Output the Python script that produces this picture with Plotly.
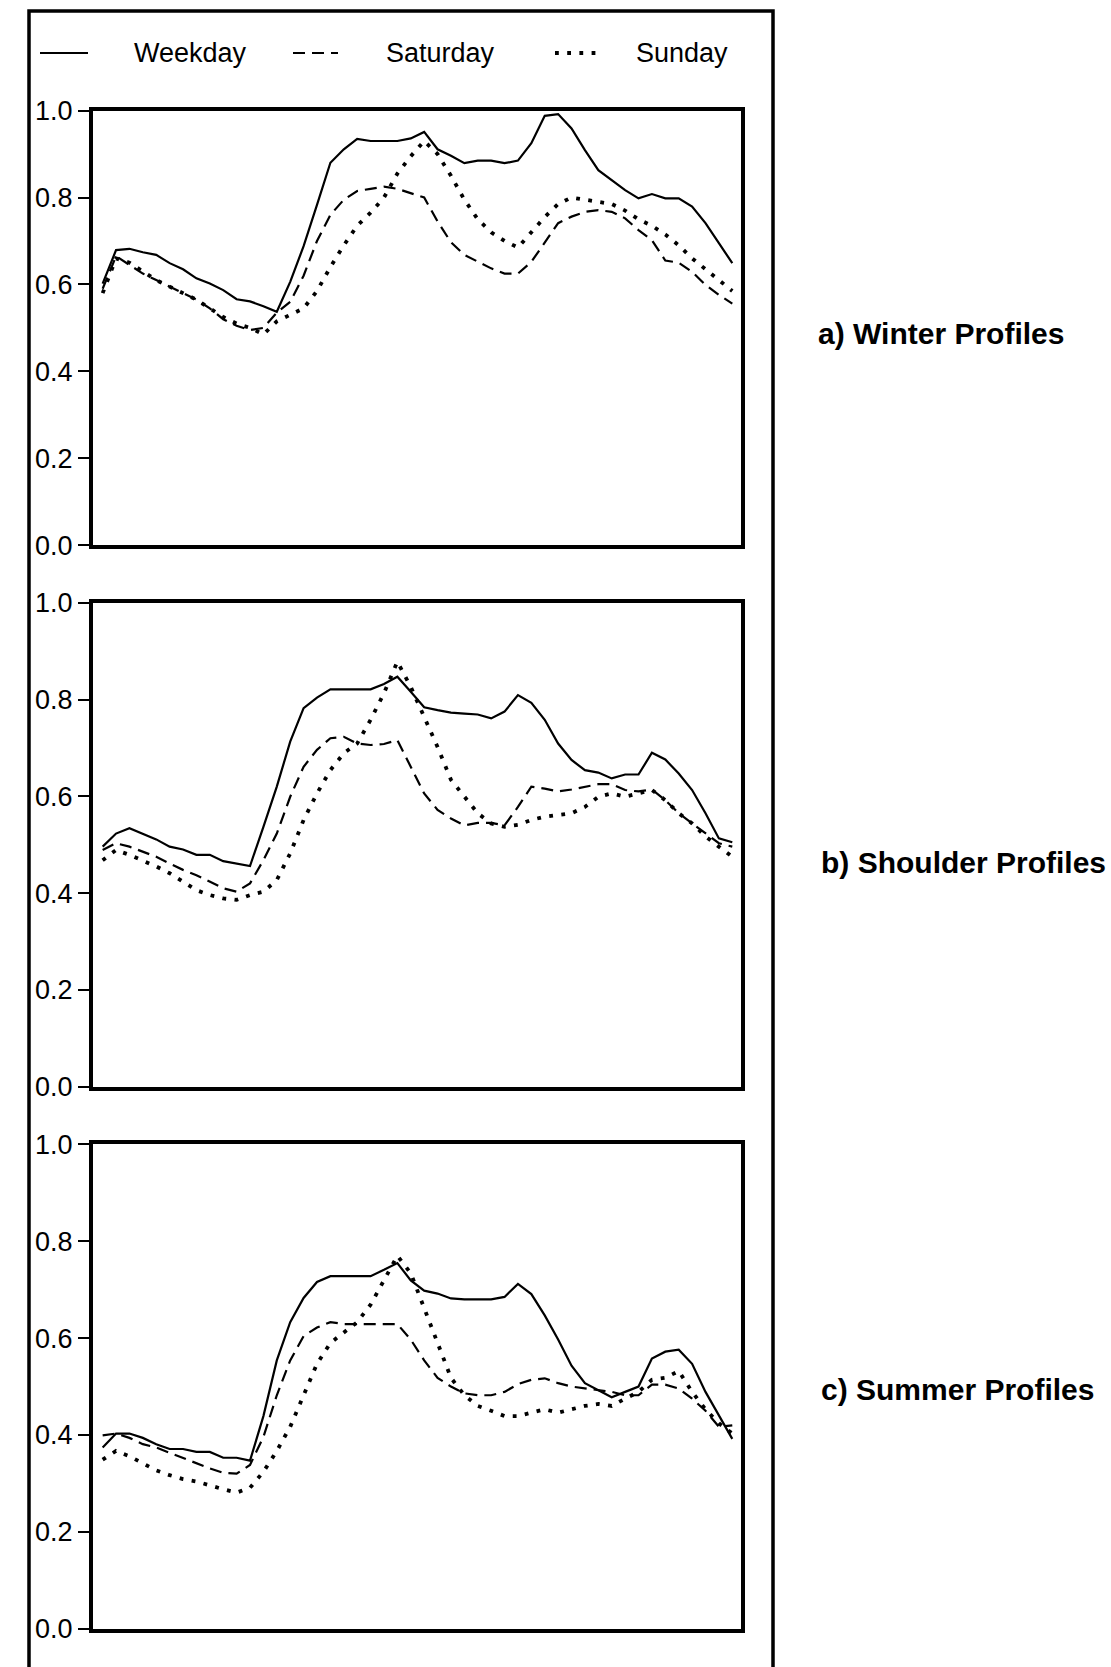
import plotly.graph_objects as go

W, H = 1111, 1667

# ---------------- data (half-hourly load profiles, 48 periods) ----------------
half_hours = list(range(48))
y_ticks = [0.0, 0.2, 0.4, 0.6, 0.8, 1.0]
y_tick_labels = ["0.0", "0.2", "0.4", "0.6", "0.8", "1.0"]
series_names = ["Weekday", "Saturday", "Sunday"]
panel_titles = ["a) Winter Profiles", "b) Shoulder Profiles", "c) Summer Profiles"]

winter_weekday = [0.602, 0.679, 0.682, 0.674, 0.668, 0.649, 0.635, 0.614, 0.602, 0.587,
                  0.566, 0.561, 0.550, 0.537, 0.606, 0.688, 0.783, 0.880, 0.911, 0.935,
                  0.930, 0.930, 0.930, 0.936, 0.951, 0.911, 0.896, 0.879, 0.885, 0.885,
                  0.879, 0.885, 0.925, 0.988, 0.992, 0.959, 0.909, 0.863, 0.840, 0.817,
                  0.798, 0.808, 0.798, 0.798, 0.779, 0.741, 0.695, 0.649]
winter_saturday = [0.590, 0.665, 0.645, 0.625, 0.610, 0.595, 0.580, 0.565, 0.545, 0.520,
                   0.505, 0.495, 0.500, 0.535, 0.560, 0.620, 0.700, 0.760, 0.795, 0.815,
                   0.820, 0.825, 0.820, 0.810, 0.800, 0.745, 0.697, 0.668, 0.652, 0.637,
                   0.625, 0.625, 0.652, 0.698, 0.741, 0.756, 0.767, 0.771, 0.767, 0.752,
                   0.725, 0.702, 0.655, 0.650, 0.629, 0.599, 0.576, 0.556]
winter_sunday = [0.580, 0.660, 0.650, 0.630, 0.610, 0.595, 0.580, 0.565, 0.545, 0.525,
                 0.510, 0.500, 0.485, 0.515, 0.530, 0.545, 0.585, 0.640, 0.690, 0.735,
                 0.765, 0.800, 0.855, 0.895, 0.930, 0.900, 0.850, 0.795, 0.750, 0.720,
                 0.700, 0.685, 0.720, 0.755, 0.785, 0.800, 0.795, 0.790, 0.785, 0.770,
                 0.750, 0.735, 0.715, 0.690, 0.660, 0.635, 0.610, 0.585]

shoulder_weekday = [0.496, 0.523, 0.534, 0.522, 0.511, 0.496, 0.490, 0.479, 0.479, 0.466,
                    0.461, 0.456, 0.537, 0.620, 0.713, 0.782, 0.804, 0.821, 0.821, 0.821,
                    0.821, 0.832, 0.847, 0.816, 0.784, 0.778, 0.773, 0.771, 0.769, 0.761,
                    0.775, 0.809, 0.793, 0.758, 0.709, 0.675, 0.654, 0.649, 0.637, 0.645,
                    0.645, 0.690, 0.676, 0.647, 0.613, 0.565, 0.513, 0.505]
shoulder_saturday = [0.489, 0.503, 0.496, 0.486, 0.475, 0.461, 0.448, 0.437, 0.424, 0.410,
                     0.403, 0.420, 0.468, 0.523, 0.599, 0.661, 0.696, 0.720, 0.723, 0.709,
                     0.706, 0.708, 0.716, 0.661, 0.606, 0.572, 0.554, 0.540, 0.545, 0.545,
                     0.540, 0.578, 0.620, 0.616, 0.610, 0.614, 0.620, 0.625, 0.625, 0.613,
                     0.610, 0.614, 0.592, 0.565, 0.544, 0.523, 0.503, 0.496]
shoulder_sunday = [0.468, 0.489, 0.479, 0.468, 0.455, 0.441, 0.424, 0.406, 0.396, 0.389,
                   0.386, 0.396, 0.403, 0.427, 0.482, 0.551, 0.606, 0.654, 0.689, 0.709,
                   0.758, 0.813, 0.878, 0.826, 0.764, 0.702, 0.634, 0.599, 0.565, 0.544,
                   0.537, 0.541, 0.551, 0.558, 0.561, 0.565, 0.578, 0.599, 0.606, 0.599,
                   0.606, 0.613, 0.592, 0.565, 0.544, 0.517, 0.496, 0.475]

summer_weekday = [0.374, 0.403, 0.403, 0.394, 0.381, 0.371, 0.371, 0.365, 0.365, 0.353,
                  0.353, 0.347, 0.439, 0.554, 0.633, 0.683, 0.716, 0.728, 0.728, 0.728,
                  0.728, 0.741, 0.755, 0.719, 0.698, 0.692, 0.682, 0.680, 0.680, 0.680,
                  0.685, 0.712, 0.691, 0.647, 0.597, 0.543, 0.507, 0.493, 0.478, 0.489,
                  0.500, 0.558, 0.572, 0.576, 0.547, 0.489, 0.439, 0.392]
summer_saturday = [0.399, 0.403, 0.394, 0.381, 0.374, 0.363, 0.353, 0.342, 0.331, 0.322,
                   0.320, 0.338, 0.396, 0.482, 0.554, 0.604, 0.622, 0.633, 0.629, 0.629,
                   0.629, 0.629, 0.629, 0.597, 0.554, 0.518, 0.500, 0.486, 0.482, 0.482,
                   0.489, 0.505, 0.514, 0.517, 0.507, 0.500, 0.496, 0.493, 0.489, 0.482,
                   0.482, 0.504, 0.504, 0.496, 0.475, 0.450, 0.417, 0.420]
summer_sunday = [0.349, 0.367, 0.356, 0.342, 0.327, 0.317, 0.309, 0.304, 0.295, 0.288,
                 0.281, 0.291, 0.324, 0.367, 0.417, 0.482, 0.547, 0.590, 0.612, 0.633,
                 0.669, 0.719, 0.770, 0.734, 0.662, 0.590, 0.518, 0.482, 0.460, 0.450,
                 0.439, 0.439, 0.446, 0.453, 0.446, 0.453, 0.460, 0.464, 0.460, 0.475,
                 0.489, 0.514, 0.518, 0.532, 0.489, 0.453, 0.424, 0.403]

panels = [
    [winter_weekday, winter_saturday, winter_sunday],
    [shoulder_weekday, shoulder_saturday, shoulder_sunday],
    [summer_weekday, summer_saturday, summer_sunday],
]

# ---------------- styling ----------------
FONT = "Liberation Sans, Arial, Helvetica, sans-serif"
line_styles = [
    dict(color="black", width=2.2, dash="solid"),
    dict(color="black", width=2.2, dash="12px,7px"),
    dict(color="black", width=3.8, dash="3.8px,8.4px"),
]

# pixel layout of the three plot boxes (top px of 1.0, bottom px of 0.0)
x_px = (93, 741)
y_px = [(110.6, 545.2), (602.7, 1086.7), (1144.4, 1628.7)]

fig = go.Figure()

for p, series in enumerate(panels):
    ax = "" if p == 0 else str(p + 1)
    for s, vals in enumerate(series):
        fig.add_trace(go.Scatter(
            x=half_hours, y=vals, mode="lines",
            line=line_styles[s], name=series_names[s], showlegend=False,
            xaxis="x" + ax, yaxis="y" + ax, hoverinfo="skip",
        ))
    top, bot = y_px[p]
    fig.layout["xaxis" + ax] = dict(
        domain=[x_px[0] / W, x_px[1] / W], range=[-0.72, 47.65],
        showline=True, mirror=True, linewidth=4, linecolor="black",
        showticklabels=False, ticks="", showgrid=False, zeroline=False,
        anchor="y" + ax, automargin=False,
    )
    fig.layout["yaxis" + ax] = dict(
        domain=[1 - bot / H, 1 - top / H], range=[0, 1.0],
        tickvals=y_ticks, ticktext=y_tick_labels,
        ticks="outside", ticklen=11, tickwidth=2, tickcolor="black",
        showline=True, mirror=True, linewidth=4, linecolor="black",
        showgrid=False, zeroline=False,
        tickfont=dict(family=FONT, size=27, color="black"),
        anchor="x" + ax, automargin=False,
    )

annotations = []
shapes = []

# outer frame
shapes.append(dict(type="rect", xref="paper", yref="paper",
                   x0=29 / W, x1=773 / W, y0=-0.02, y1=1 - 11 / H,
                   line=dict(color="black", width=3.5)))

# legend (drawn manually to match the original)
legend_y = 1 - 53 / H
legend_samples = [(40, 88), (293, 338), (555, 596)]
legend_text_x = [132, 384, 634]
for s in range(3):
    ls = dict(line_styles[s])
    shapes.append(dict(type="line", xref="paper", yref="paper",
                       x0=legend_samples[s][0] / W, x1=legend_samples[s][1] / W,
                       y0=legend_y, y1=legend_y,
                       line=dict(color="black", width=ls["width"], dash=ls["dash"])))
    annotations.append(dict(xref="paper", yref="paper", x=legend_text_x[s] / W, y=legend_y,
                            xanchor="left", yanchor="middle", showarrow=False,
                            text=series_names[s],
                            font=dict(family=FONT, size=27, color="black")))

# panel titles on the right
title_pos = [(816, 334), (819, 862), (819, 1389)]
for p in range(3):
    annotations.append(dict(xref="paper", yref="paper",
                            x=title_pos[p][0] / W, y=1 - title_pos[p][1] / H,
                            xanchor="left", yanchor="middle", showarrow=False,
                            text="<b>" + panel_titles[p] + "</b>",
                            font=dict(family=FONT, size=30, color="black")))

fig.update_layout(
    width=W, height=H,
    margin=dict(l=0, r=0, t=0, b=0, autoexpand=False),
    paper_bgcolor="white", plot_bgcolor="white",
    showlegend=False,
    annotations=annotations, shapes=shapes,
)

fig.write_html("out.html", config={"displayModeBar": False},
               post_script="document.body.style.margin='0';")
